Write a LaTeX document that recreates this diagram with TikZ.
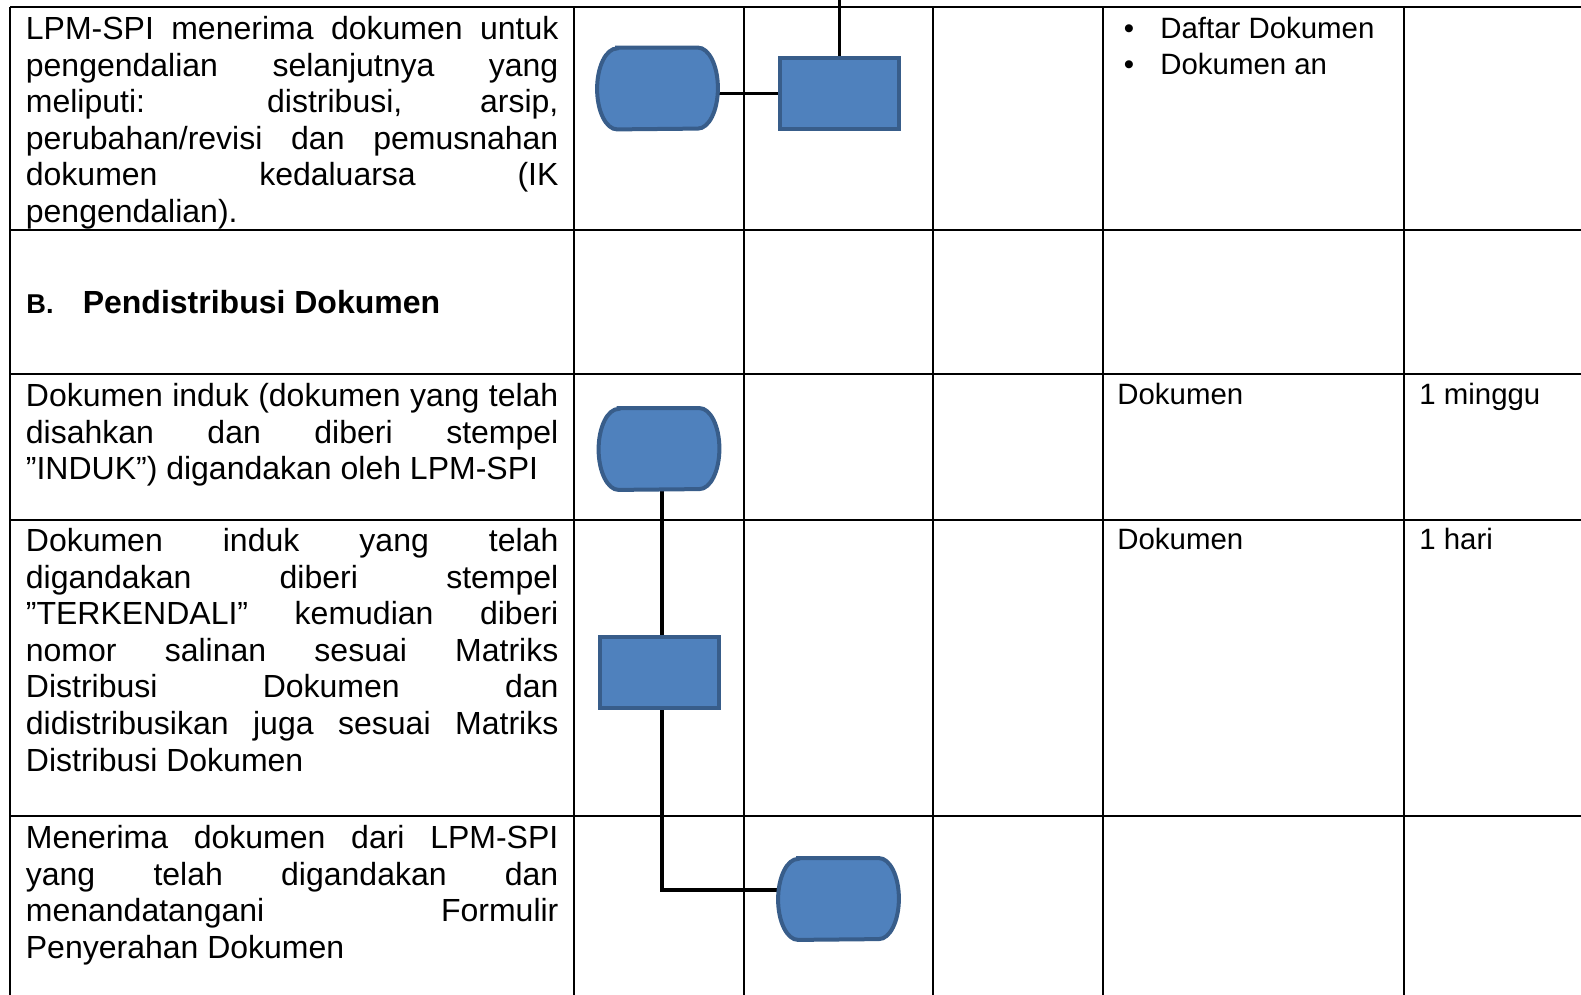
\documentclass[tikz,border=0pt]{standalone}
\usepackage{fontspec}
\setmainfont{Liberation Sans}
\definecolor{boxfill}{HTML}{4F81BD}
\definecolor{boxline}{HTML}{385D8A}
\hyphenpenalty=10000
\exhyphenpenalty=10000
\tolerance=10000

\begin{document}
\begin{tikzpicture}[x=0.5pt, y=-0.5pt,
  grid/.style={line width=1pt},
  flow/.style={line width=1.65pt},
  term/.style={minimum width=60pt, minimum height=40.5pt, inner sep=0pt},
  termline/.style={draw=boxline, fill=boxfill, line width=2pt},
  proc/.style={draw=boxline, fill=boxfill, line width=2pt, minimum width=59.5pt, minimum height=35.5pt, inner sep=0pt},
  txt/.style={font=\fontsize{14.7}{17.6}\selectfont, inner sep=0pt},
  para/.style={font=\fontsize{16}{18.3}\selectfont, inner sep=0pt, anchor=north west, text width=266.25pt, align=justify}]
  \useasboundingbox (0,0) rectangle (1581,995);

  % ---- Table grid ----
  \foreach \y in {7,230,374,520,816} {\draw[grid] (10,\y) -- (1581,\y);}
  \foreach \x in {10,574,744,933,1103,1404} {\draw[grid] (\x,7) -- (\x,995);}

  % ---- Column 1: activities ----
  \node[para] (a1) at (25.5,16) {LPM-SPI menerima dokumen untuk\linebreak pengendalian selanjutnya yang\linebreak meliputi: distribusi, arsip,\linebreak perubahan/revisi dan pemusnahan\linebreak dokumen kedaluarsa (IK\linebreak pengendalian).};
  \node[font=\fontsize{16}{18.3}\selectfont\bfseries, inner sep=0pt, anchor=base west] (hB) at (26,313) {\makebox[28.2pt][l]{\fontsize{13.6}{15}\selectfont B.}Pendistribusi Dokumen};
  \node[para] (a3) at (25.5,383) {Dokumen induk (dokumen yang telah\linebreak disahkan dan diberi stempel\linebreak ”INDUK”) digandakan oleh LPM-SPI};
  \node[para] (a4) at (25.5,528) {Dokumen induk yang telah\linebreak digandakan diberi stempel\linebreak ”TERKENDALI” kemudian diberi\linebreak nomor salinan sesuai Matriks\linebreak Distribusi Dokumen dan\linebreak didistribusikan juga sesuai Matriks\linebreak Distribusi Dokumen};
  \node[para] (a5) at (25.5,825) {Menerima dokumen dari LPM-SPI\linebreak yang telah digandakan dan\linebreak menandatangani Formulir\linebreak Penyerahan Dokumen};

  % ---- Columns 5 and 6: records and time ----
  \node[txt, anchor=base] (b1) at (1129,39) {•};
  \node[txt, anchor=base west] (d1) at (1160,39) {Daftar Dokumen};
  \node[txt, anchor=base] (b2) at (1129,75) {•};
  \node[txt, anchor=base west] (d2) at (1160,75) {Dokumen an};
  \node[txt, anchor=base west] (d3) at (1117,404) {Dokumen};
  \node[txt, anchor=base west] (w3) at (1419,404) {1 minggu};
  \node[txt, anchor=base west] (d4) at (1117,549) {Dokumen};
  \node[txt, anchor=base west] (w4) at (1419,549) {1 hari};

  % ---- Flow shapes ----
  \node[term] (t1) at (657.5,88.5) {};
  \node[proc] (r1) at (839.5,93.5) {};
  \node[term] (t2) at (659,449) {};
  \node[proc] (r2) at (659,672.5) {};
  \node[term] (t3) at (838.5,899) {};
  \coordinate (in1) at (839.5,0);

  % ---- Connectors ----
  \draw[flow] (in1) -- (r1.north);
  \draw[flow] (r1.west) -- (r1.west -| t1.east);
  \draw[flow] ([xshift=1.5pt]t2.south) -- ([xshift=1.5pt]r2.north);
  \draw[flow] ([xshift=1.5pt]r2.south) |- ([yshift=4.5pt]t3.west);

  % ---- Terminator outlines ----
  \foreach \t in {t1,t2,t3} {\draw[termline] ([xshift=10pt]\t.north west) -- ([xshift=-10pt]\t.north east) arc[start angle=90, end angle=-90, x radius=10pt, y radius=20.25pt] -- ([xshift=10pt]\t.south west) arc[start angle=270, end angle=90, x radius=10pt, y radius=20.25pt] -- cycle;}
\end{tikzpicture}
\end{document}
